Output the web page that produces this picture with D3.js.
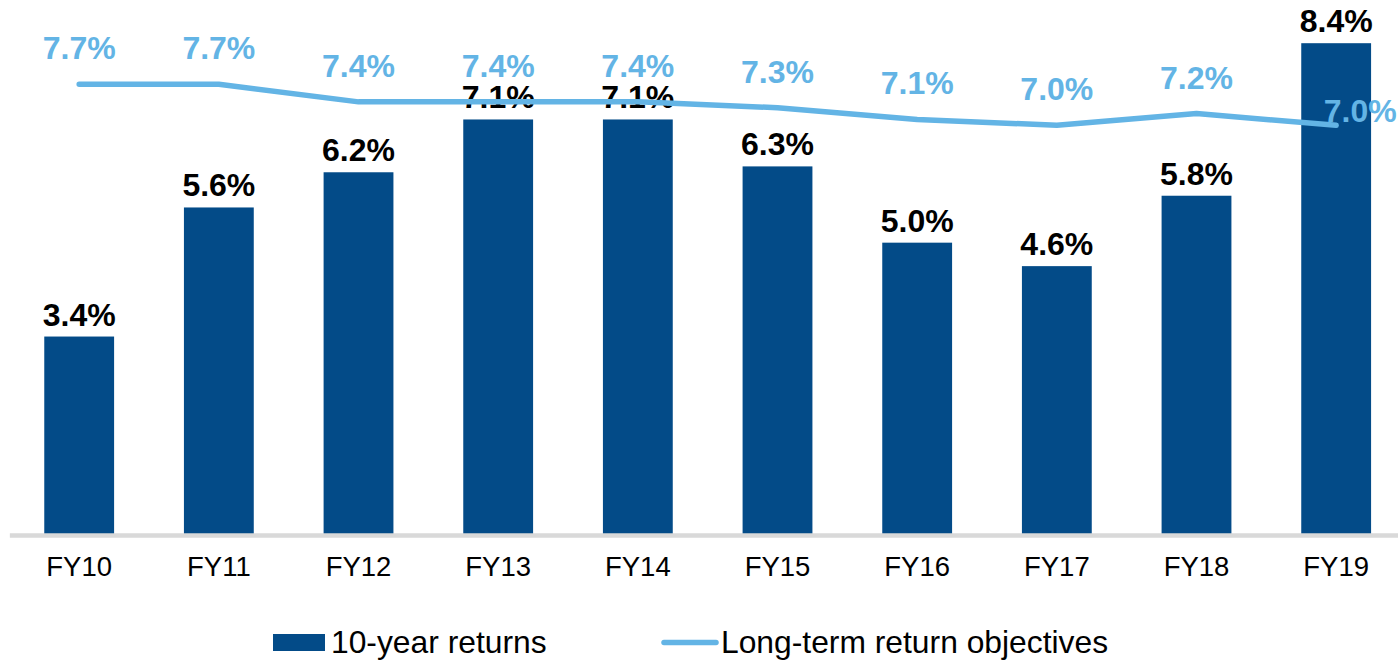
<html>
    <head>
        <title>10-year returns</title>
        <script src="https://d3js.org/d3.v7.min.js"></script>
    </head>
    <body>
        <svg id="returns-chart" width="1398" height="660"></svg>
        <script>
            // chart data
            const years = ["FY10","FY11","FY12","FY13","FY14","FY15","FY16","FY17","FY18","FY19"];
            const tenYearReturns = [3.4, 5.6, 6.2, 7.1, 7.1, 6.3, 5.0, 4.6, 5.8, 8.4];
            const longTermObjectives = [7.7, 7.7, 7.4, 7.4, 7.4, 7.3, 7.1, 7.0, 7.2, 7.0];
            const legendLabels = ["10-year returns", "Long-term return objectives"];

            const barColor = "#034b88";
            const lineColor = "#63b4e5";

            const svg = d3.select("svg#returns-chart");
            const baseY = 536;

            const xScale = d3.scaleBand().domain(years)
                            .range([9.35, 1406])
                            .paddingInner(0.5)
                            .paddingOuter(0.25);
            const yScale = d3.scaleLinear().domain([0, 9]).range([baseY, 8]);

            const fmt = d => d.toFixed(1) + "%";

            // bars
            svg.append("g").selectAll("rect")
                .data(tenYearReturns)
                .join("rect")
                .attr("x", (d,i) => xScale(years[i]))
                .attr("width", xScale.bandwidth())
                .attr("y", d => yScale(d))
                .attr("height", d => baseY - yScale(d))
                .attr("fill", barColor);

            // x axis
            const xAxis = svg.append("g")
                .attr("class", "x axis")
                .attr("transform", `translate(0,${baseY - 1})`)
                .call(d3.axisBottom(xScale).tickSize(0).tickSizeOuter(0));
            xAxis.select(".domain").attr("stroke", "#d9d9d9").attr("stroke-width", 4.5);
            xAxis.selectAll("text")
                .attr("y", 41)
                .attr("dy", 0)
                .attr("fill", "#000")
                .style("font-size", "27.5px")
                .style("font-family", "'Liberation Sans', Arial, sans-serif");

            // bar labels
            svg.append("g").selectAll("text")
                .data(tenYearReturns)
                .join("text")
                .attr("class", "value-label")
                .attr("x", (d,i) => xScale(years[i]) + xScale.bandwidth()/2)
                .attr("y", d => yScale(d) - 11)
                .attr("text-anchor", "middle")
                .attr("fill", "#000")
                .text(fmt);

            // objectives line
            const lineGen = d3.line()
                .x((d,i) => xScale(years[i]) + xScale.bandwidth()/2)
                .y(d => yScale(d));
            svg.append("path")
                .datum(longTermObjectives)
                .attr("fill", "none")
                .attr("stroke", lineColor)
                .attr("stroke-width", 5.5)
                .attr("stroke-linecap", "round")
                .attr("stroke-linejoin", "round")
                .attr("d", lineGen);

            // line labels (last one sits beside the point)
            const last = longTermObjectives.length - 1;
            svg.append("g").selectAll("text")
                .data(longTermObjectives)
                .join("text")
                .attr("class", "value-label")
                .attr("x", (d,i) => xScale(years[i]) + xScale.bandwidth()/2 + (i == last ? 24 : 0))
                .attr("y", (d,i) => yScale(d) - (i == last ? 3.5 : 25))
                .attr("text-anchor", "middle")
                .attr("fill", lineColor)
                .text(fmt);

            // legend
            const legend = svg.append("g").attr("class", "legend");
            legend.append("rect")
                .attr("x", 273).attr("y", 634)
                .attr("width", 52).attr("height", 17)
                .attr("fill", barColor);
            legend.append("text")
                .attr("class", "legend-text")
                .attr("x", 331).attr("y", 653)
                .text(legendLabels[0]);
            legend.append("line")
                .attr("x1", 664).attr("x2", 716)
                .attr("y1", 642.5).attr("y2", 642.5)
                .attr("stroke", lineColor)
                .attr("stroke-width", 5.5)
                .attr("stroke-linecap", "round");
            legend.append("text")
                .attr("class", "legend-text")
                .attr("x", 721).attr("y", 653)
                .text(legendLabels[1]);
        </script>
    </body>
</html>

<style>
    body{
        margin:0;
        background:#fff;
    }
    svg{
        display:block;
        font-family:'Liberation Sans', Arial, sans-serif;
    }
    .value-label{
        font-size:32px;
        font-weight:bold;
    }
    .legend-text{
        font-size:31.8px;
        fill:#000;
    }
</style>
